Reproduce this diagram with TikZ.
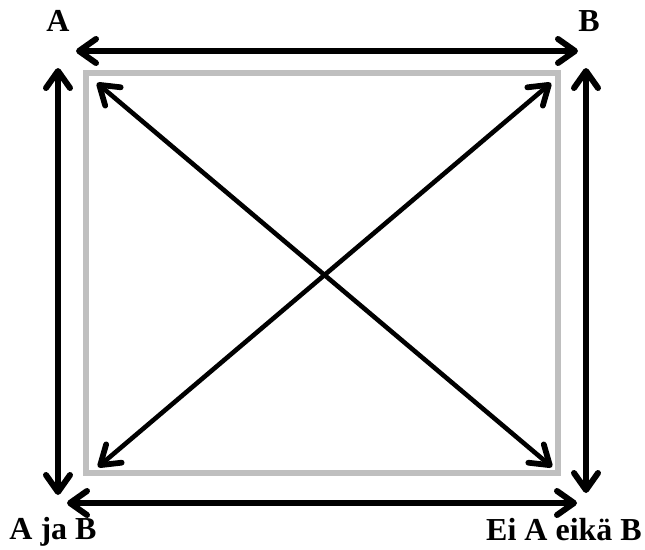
\documentclass[tikz,border=0pt]{standalone}
\usepackage{fontspec}
\setmainfont{Liberation Serif}
\usetikzlibrary{arrows.meta}
\tikzset{
  lbl/.style   ={font=\fontsize{32}{32}\selectfont\bfseries, inner sep=0pt, anchor=base},
  barb/.tip    ={Straight Barb[length=17pt, width=24pt, line width=0pt 1, round]},
  dbarb/.tip   ={Straight Barb[length=18pt, width=24pt, line width=0pt 1.25, round]},
  side/.style  ={barb-barb, line width=6pt, draw=black},
  diag/.style  ={dbarb-dbarb, line width=4.6pt, draw=black},
  frame/.style ={draw=black!25, line width=6pt},
}
\begin{document}
\begin{tikzpicture}[x=1pt, y=-1pt]
  \useasboundingbox (0,0) rectangle (645,549);
  \node[lbl] (la) at (58,31) {A};
  \node[lbl] (lb) at (589,31) {B};
  \node[lbl] (lab) at (53,539) {A ja B};
  \node[lbl] (lnot) at (564,540) {Ei A eikä B};

  % outer arrows
  \coordinate (t1) at (76,51);  \coordinate (t2) at (578,51);
  \coordinate (l1) at (58,68);  \coordinate (l2) at (58,495);
  \coordinate (r1) at (586,68); \coordinate (r2) at (586,493);
  \coordinate (b1) at (67,503); \coordinate (b2) at (577,503);
  % inner frame and diagonals
  \draw[frame] (86,73) rectangle (557.5,473);
  \coordinate (d1) at (97,83);  \coordinate (d2) at (552,467);
  \coordinate (d3) at (551,83); \coordinate (d4) at (98,467);

  \draw[side] (t1) -- (t2);
  \draw[side] (l1) -- (l2);
  \draw[side] (r1) -- (r2);
  \draw[side] (b1) -- (b2);
  \draw[diag] (d1) -- (d2);
  \draw[diag] (d3) -- (d4);
\end{tikzpicture}
\end{document}
